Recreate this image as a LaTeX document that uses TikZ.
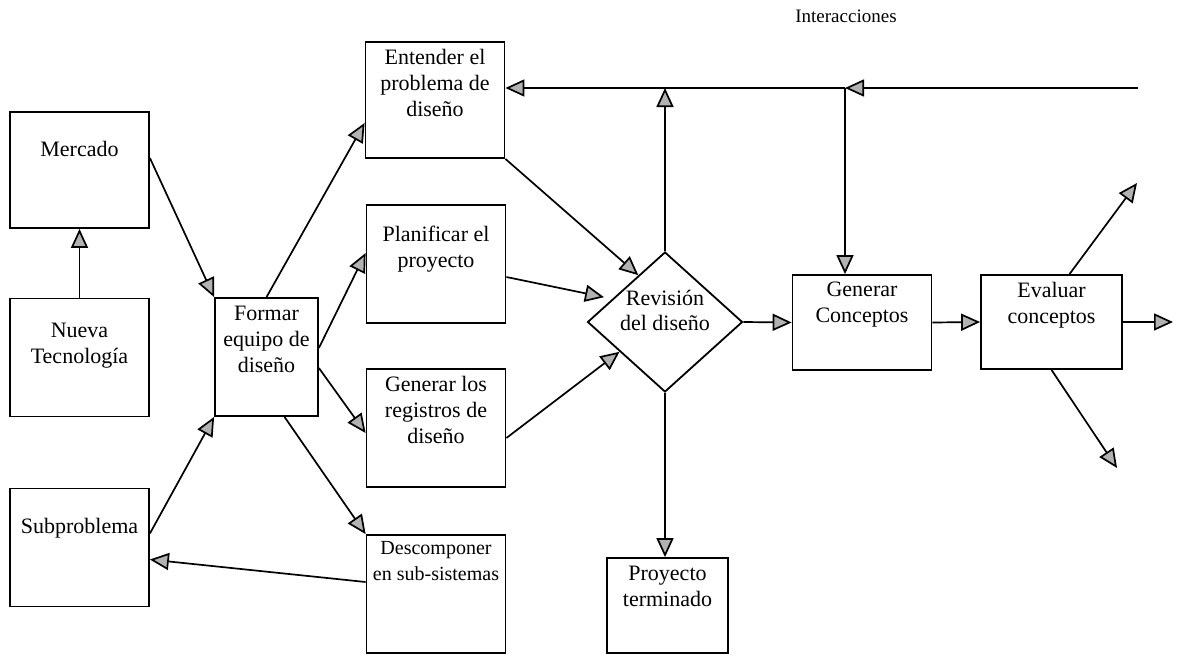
\documentclass[tikz,border=0pt]{standalone}
\usepackage{fontspec}
\setmainfont{Liberation Serif}
\usetikzlibrary{positioning,arrows.meta,calc,shapes.geometric}

\begin{document}
\begin{tikzpicture}[
    x=1pt,y=-1pt,
    font=\fontsize{22}{26}\selectfont,
    caja/.style={draw,line width=1.8pt,minimum width=139pt,minimum height=118pt,inner sep=0pt},
    rombo/.style={draw,diamond,line width=1.8pt,minimum width=155pt,minimum height=140pt,inner sep=0pt},
    texto/.style={align=center,inner sep=0pt},
    flecha/.style={-{Triangle[length=19pt,width=17pt,fill=gray!60]},line width=1.7pt}
]
  \useasboundingbox (0,0) rectangle (1183,656);

  \node[caja,minimum height=116pt] (merc) at (79.5,170) {};
  \node[texto,below=30pt of merc.north] (mercT) {Mercado};
  \node[caja] (nueva) at (79.5,357.5) {};
  \node[texto,below=25pt of nueva.north] (nuevaT) {Nueva\\Tecnología};
  \node[caja] (sub) at (79.5,547.5) {};
  \node[texto,below=30pt of sub.north] (subT) {Subproblema};
  \node[caja,minimum width=103pt] (equipo) at (266.5,357) {};
  \node[texto,below=9pt of equipo.north] (equipoT) {Formar\\equipo de\\diseño};
  \node[caja,minimum height=116pt] (entender) at (435,100) {};
  \node[texto,below=8pt of entender.north] (entenderT) {Entender el\\problema de\\diseño};
  \node[caja] (planif) at (436,264) {};
  \node[texto,below=22pt of planif.north] (planifT) {Planificar el\\proyecto};
  \node[caja] (regist) at (436,428) {};
  \node[texto,below=8pt of regist.north] (registT) {Generar los\\registros de\\diseño};
  \node[caja] (descomp) at (436,594) {};
  \node[texto,font=\fontsize{20}{26}\selectfont,below=7pt of descomp.north] (descompT) {Descomponer\\en sub-sistemas};
  \node[rombo] (revision) at (665,322) {};
  \node[texto,font=\fontsize{22}{25}\selectfont] (revisionT) at (665,310) {Revisión\\del diseño};
  \node[caja,minimum height=95pt] (generar) at (862,322.5) {};
  \node[texto,below=8pt of generar.north] (generarT) {Generar\\Conceptos};
  \node[caja,minimum width=141pt,minimum height=94pt] (evaluar) at (1051.5,322) {};
  \node[texto,below=8pt of evaluar.north] (evaluarT) {Evaluar\\conceptos};
  \node[caja,minimum width=121pt,minimum height=95pt] (proyecto) at (667.5,605.5) {};
  \node[texto,below=9pt of proyecto.north] (proyectoT) {Proyecto\\terminado};
  \node[font=\fontsize{19}{22}\selectfont] (inter) at (846,16) {Interacciones};

  \coordinate (cruce) at (845,88);
  \coordinate (extremo) at (1138,88);
  \coordinate (salidaE) at (1173,322);
  \coordinate (salidaNE) at (1137,183);
  \coordinate (salidaSE) at (1117,468);

  \draw[flecha] ([yshift=12pt]merc.east) -- (equipo.north west);
  \draw[flecha] (nueva.north) -- (merc.south);
  \draw[flecha] ([yshift=14pt]sub.east) -- (equipo.south west);
  \draw[flecha] (equipo.north) -- ([yshift=-23pt]entender.west);
  \draw[flecha] ([yshift=9pt]equipo.east) -- ([yshift=11pt]planif.west);
  \draw[flecha] ([yshift=-11pt]equipo.east) -- ([yshift=-5pt]regist.west);
  \draw[flecha] ([xshift=18pt]equipo.south) -- (descomp.north west);
  \draw[flecha] ([yshift=12pt]descomp.west) -- ([yshift=-12pt]sub.east);
  \draw[flecha] (entender.south east) -- ($(revision.west)!0.66!(revision.north)$);
  \draw[flecha] ([yshift=-13pt]planif.east) -- ($(revision.west)!0.35!(revision.north)+(-10pt,0)$);
  \draw[flecha] ([yshift=-10pt]regist.east) -- ($(revision.west)!0.42!(revision.south)$);
  \draw[flecha] (revision.east) -- (generar.west);
  \draw[flecha] (revision.south) -- (revision.south |- proyecto.north);
  \draw[flecha] (generar.east) -- (evaluar.west);
  \draw[flecha] (evaluar.east) -- (salidaE);
  \draw[flecha] ([xshift=18pt]evaluar.north) -- (salidaNE);
  \draw[flecha] (evaluar.south) -- (salidaSE);
  \draw[flecha] (extremo) -- (cruce);
  \draw[flecha] (cruce) -- (cruce -| entender.east);
  \draw[flecha] (cruce) -- (cruce |- generar.north);
  \draw[flecha] (revision.north) -- (revision.north |- cruce);
\end{tikzpicture}
\end{document}
